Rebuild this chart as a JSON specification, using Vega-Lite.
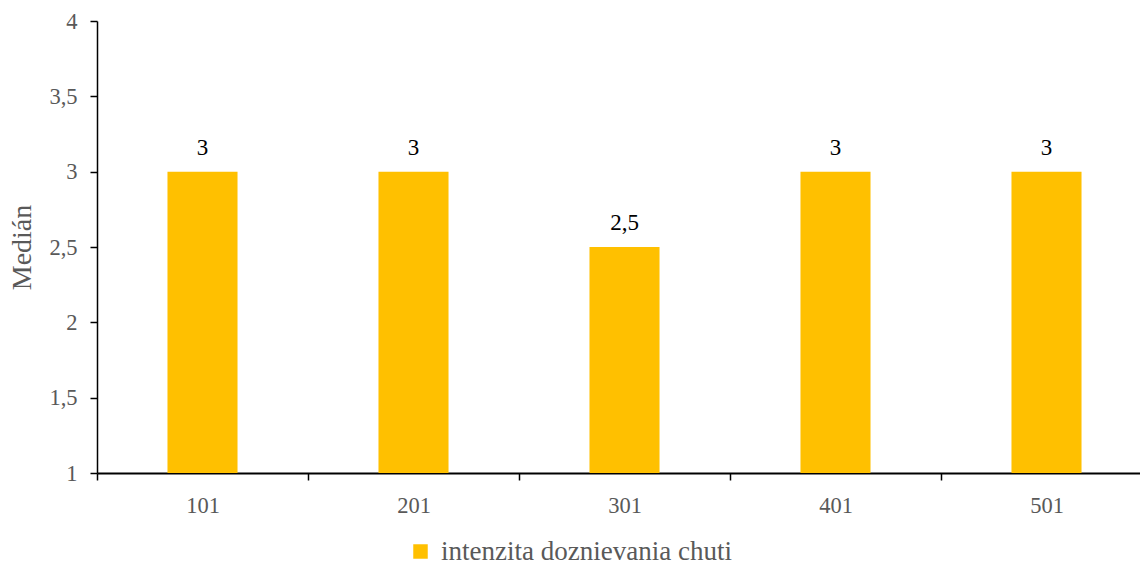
{
  "$schema": "https://vega.github.io/schema/vega-lite/v6.json",
  "autosize": {"type": "none"},
  "width": 1043,
  "height": 452,
  "padding": {"left": 97, "top": 21, "right": 0, "bottom": 93},
  "background": "white",
  "config": {
    "font": "Liberation Serif",
    "view": {"stroke": null},
    "text": {"font": "Liberation Serif, serif"},
    "legend": {"labelFont": "Liberation Serif, serif"},
    "locale": {
      "number": {"decimal": ",", "thousands": " ", "grouping": [3], "currency": ["", " €"]}
    }
  },
  "data": {
    "values": [
      {"vzorka": "101", "median": 3, "serie": "intenzita doznievania chuti"},
      {"vzorka": "201", "median": 3, "serie": "intenzita doznievania chuti"},
      {"vzorka": "301", "median": 2.5, "serie": "intenzita doznievania chuti"},
      {"vzorka": "401", "median": 3, "serie": "intenzita doznievania chuti"},
      {"vzorka": "501", "median": 3, "serie": "intenzita doznievania chuti"}
    ]
  },
  "encoding": {
    "x": {
      "field": "vzorka",
      "type": "nominal",
      "sort": null,
      "scale": {"range": [0, 1055], "paddingInner": 0, "paddingOuter": 0},
      "axis": {
        "title": null,
        "labelAngle": 0,
        "labelFont": "Liberation Serif",
        "labelFontSize": 22.5,
        "labelColor": "#595959",
        "labelPadding": 14,
        "tickBand": "extent",
        "tickSize": 7,
        "tickColor": "#000000",
        "tickWidth": 1.5,
        "domainColor": "#000000",
        "domainWidth": 2
      }
    },
    "y": {
      "field": "median",
      "type": "quantitative",
      "scale": {"domain": [1, 4], "zero": false, "nice": false},
      "axis": {
        "title": "Medián",
        "titleFont": "Liberation Serif",
        "titleFontSize": 28,
        "titleFontWeight": "normal",
        "titleColor": "#595959",
        "titlePadding": 12,
        "values": [1, 1.5, 2, 2.5, 3, 3.5, 4],
        "format": "~g",
        "labelFont": "Liberation Serif",
        "labelFontSize": 22.5,
        "labelColor": "#595959",
        "labelPadding": 13,
        "tickSize": 7,
        "tickColor": "#000000",
        "tickWidth": 1.5,
        "domainColor": "#000000",
        "domainWidth": 1.5,
        "grid": false
      }
    }
  },
  "layer": [
    {
      "mark": {"type": "bar", "clip": false, "width": {"band": 0.332}},
      "encoding": {
        "y2": {"datum": 1},
        "color": {
          "field": "serie",
          "type": "nominal",
          "scale": {"range": ["#FFC000"]},
          "legend": {
            "title": null,
            "orient": "none",
            "legendX": 310,
            "legendY": 517,
            "symbolType": "square",
            "symbolSize": 210,
            "symbolStrokeWidth": 0,
            "symbolOpacity": 1,
            "labelFont": "Liberation Serif, serif",
            "labelFontSize": 27,
            "labelColor": "#595959",
            "labelOffset": 7,
            "labelLimit": 0
          }
        }
      }
    },
    {
      "mark": {"type": "text", "dy": -24, "fontSize": 23, "font": "Liberation Serif, serif", "color": "#000000"},
      "encoding": {
        "text": {"field": "median", "type": "quantitative", "format": "~g"}
      }
    }
  ]
}
